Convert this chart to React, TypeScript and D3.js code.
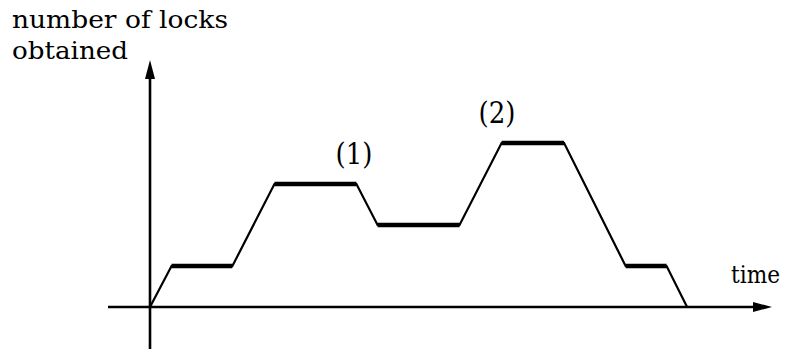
import React from "react";
import * as d3 from "d3";

const times = [0, 1.05, 4.02, 6.07, 10.07, 11.1, 15.1, 17.15, 20.2, 23.2, 25.2, 26.2];
const locks = [0, 1, 1, 3, 3, 2, 2, 4, 4, 1, 1, 0];
const flatSegments = [[1, 2], [3, 4], [5, 6], [7, 8], [9, 10]];
const annotations = [
  { label: "(1)", t: 9.95, v: 3 },
  { label: "(2)", t: 16.93, v: 4 },
];
const yTitle = ["number of locks", "obtained"];
const xTitle = "time";

const W = 791;
const H = 354;

export default function App() {
  const x = d3.scaleLinear().domain([0, 1]).range([150, 170.5]);
  const y = d3.scaleLinear().domain([0, 1]).range([307, 266]);
  const pts: [number, number][] = times.map((t, i) => [x(t), y(locks[i])]);
  const line = d3.line();
  const fam = '"DejaVu Serif", serif';
  const ts: React.CSSProperties = { fontFamily: fam, fontSize: 24.5 };
  const as: React.CSSProperties = { fontFamily: fam, fontSize: 29 };
  const x0 = x(0);
  const y0 = y(0);
  return (
    <svg
      width={W}
      height={H}
      style={{ position: "absolute", left: 0, top: 0, background: "#fff" }}
    >
      <rect width={W} height={H} fill="#fff" />
      {/* axes */}
      <line x1={108} y1={y0} x2={758} y2={y0} stroke="#000" strokeWidth={2.6} />
      <path d={`M772,${y0} L753,${y0 - 5} L753,${y0 + 5} Z`} fill="#000" />
      <line x1={x0} y1={349} x2={x0} y2={76} stroke="#000" strokeWidth={2.6} />
      <path d={`M${x0},60 L${x0 - 5},79 L${x0 + 5},79 Z`} fill="#000" />
      {/* curve */}
      <path d={line(pts) || ""} fill="none" stroke="#000" strokeWidth={2.2} strokeLinejoin="miter" />
      {flatSegments.map(([a, b], i) => (
        <line
          key={i}
          x1={pts[a][0]}
          y1={pts[a][1]}
          x2={pts[b][0]}
          y2={pts[b][1]}
          stroke="#000"
          strokeWidth={4.4}
        />
      ))}
      {annotations.map((a) => (
        <text
          key={a.label}
          x={x(a.t)}
          y={y(a.v) - 20.5}
          textAnchor="middle"
          style={as}
          textLength={37}
          lengthAdjust="spacingAndGlyphs"
        >
          {a.label}
        </text>
      ))}
      <text x={12} y={28} style={ts} textLength={216} lengthAdjust="spacingAndGlyphs">
        {yTitle[0]}
      </text>
      <text x={12} y={59} style={ts} textLength={116} lengthAdjust="spacingAndGlyphs">
        {yTitle[1]}
      </text>
      <text x={731} y={283} style={ts} textLength={49} lengthAdjust="spacingAndGlyphs">
        {xTitle}
      </text>
    </svg>
  );
}
